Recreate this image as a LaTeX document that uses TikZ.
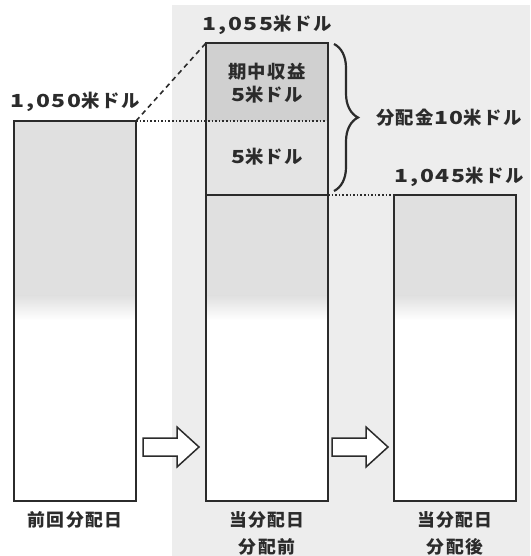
\documentclass[tikz,border=0pt]{standalone}
\usepackage{graphicx}
\usepackage{fontspec}
\setmainfont{Noto Sans CJK JP}[FakeStretch=1.02, LetterSpace=8]
\usetikzlibrary{decorations.pathreplacing}
\newcommand\wnum[1]{\scalebox{1.25}[1]{#1}}
\definecolor{panel}{HTML}{EDEDED}
\definecolor{bargray}{HTML}{E0E0E0}
\definecolor{incgray}{HTML}{D0D0D0}
\definecolor{midgray}{HTML}{E4E4E4}
\definecolor{ink}{HTML}{2B2B2B}
\tikzset{
  barline/.style={draw=ink, line width=2.4pt},
  lbl/.style={inner sep=0pt, font=\fontsize{18}{23}\selectfont\bfseries, text=ink},
  bottomlbl/.style={inner sep=0pt, font=\fontsize{17.5}{27}\selectfont\bfseries, text=ink, align=center},
  guide/.style={draw=ink, line width=1.6pt},
  blockarr/.pic={
    \draw[draw=ink, fill=white, line width=1.5pt, line join=miter]
      (0,-9) -- (34,-9) -- (34,-20) -- (56,0) -- (34,20) -- (34,9) -- (0,9) -- cycle;
  }
}
\begin{document}
\begin{tikzpicture}[x=1pt,y=-1pt]
\useasboundingbox (0,0) rectangle (530,556);
\fill[white] (0,0) rectangle (530,556);
\fill[panel] (172,5) rectangle (530,556);

% bar fills
\foreach \l/\r/\t in {14/136/121, 206/328/195, 394/516/195}{
  \fill[bargray] (\l,\t) rectangle (\r,296);
  \shade[top color=bargray, bottom color=white] (\l,295.5) rectangle (\r,320);
  \fill[white] (\l,319.5) rectangle (\r,501);
}
\fill[incgray] (206,43) rectangle (328,121);
\fill[midgray] (206,121) rectangle (328,195);

% corner coordinates
\coordinate (prevTL) at (14,121);
\coordinate (prevTR) at (136,121);
\coordinate (prevBR) at (136,501);
\coordinate (befTL) at (206,43);
\coordinate (befTR) at (328,43);
\coordinate (befML) at (206,195);
\coordinate (befMR) at (328,195);
\coordinate (befDR) at (328,121);
\coordinate (befBR) at (328,501);
\coordinate (aftTL) at (394,195);
\coordinate (aftBR) at (516,501);

% connectors
\draw[guide, dotted] (prevTR) -- (befDR);
\draw[guide, dotted] (befMR) -- (aftTL);
\draw[guide, dash pattern=on 5pt off 4pt] (prevTR) -- (befTL);

% bars outlines
\draw[barline] (prevTL) rectangle (prevBR);
\draw[barline] (befTL) rectangle (befBR);
\draw[barline] (befML) -- (befMR);
\draw[barline] (aftTL) rectangle (aftBR);

% brace
\draw[draw=ink, line width=2.2pt, decorate, decoration={brace, amplitude=24pt, aspect=0.5}]
  (334,44) -- (334,191);

% block arrows
\pic at (143,447) {blockarr};
\pic at (332,447) {blockarr};

% labels
\node[lbl] (v1050) at (75,102) {\wnum{1,050}米ドル};
\node[lbl] (v1055) at (267,25) {\wnum{1,055}米ドル};
\node[lbl] (v1045) at (459,177) {\wnum{1,045}米ドル};
\node[lbl] (dist) at (449,118) {分配金\wnum{10}米ドル};
\node[lbl, align=center] (inc) at (267,83) {期中収益\\\wnum{5}米ドル};
\node[lbl] (five) at (267,157) {\wnum{5}米ドル};
\node[bottomlbl] (d1) at (75,520) {前回分配日};
\node[bottomlbl] (d2) at (267,533) {当分配日\\分配前};
\node[bottomlbl] (d3) at (455,533) {当分配日\\分配後};
\end{tikzpicture}
\end{document}
